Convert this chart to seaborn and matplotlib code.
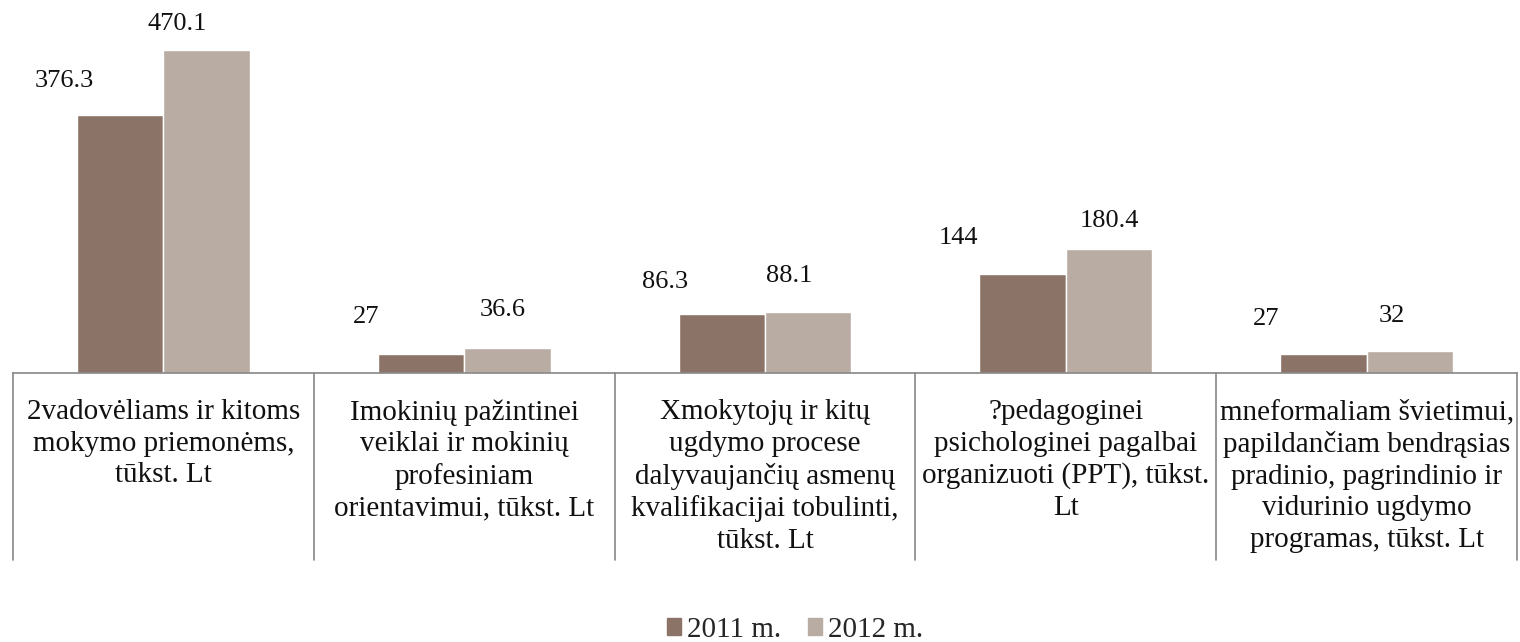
import pandas as pd
import matplotlib
matplotlib.use("Agg")
import matplotlib.pyplot as plt
import matplotlib.transforms as mtransforms
import seaborn as sns

# ---------------------------
# Data
# ---------------------------
categories = [
    "2vadovėliams ir kitoms\nmokymo priemonėms,\ntūkst. Lt",
    "Imokinių pažintinei\nveiklai ir mokinių\nprofesiniam\norientavimui, tūkst. Lt",
    "Xmokytojų ir kitų\nugdymo procese\ndalyvaujančių asmenų\nkvalifikacijai tobulinti,\ntūkst. Lt",
    "?pedagoginei\npsichologinei pagalbai\norganizuoti (PPT), tūkst.\nLt",
    "mneformaliam švietimui,\npapildančiam bendrąsias\npradinio, pagrindinio ir\nvidurinio ugdymo\nprogramas, tūkst. Lt",
]
years = ["2011 m.", "2012 m."]
values_2011 = [376.3, 27, 86.3, 144, 27]
values_2012 = [470.1, 36.6, 88.1, 180.4, 32]
label_2011 = ["376.3", "27", "86.3", "144", "27"]
label_2012 = ["470.1", "36.6", "88.1", "180.4", "32"]

# label shifts (pixels) relative to the bar top centre
shift_x_2011 = [-56, -55, -57, -64, -57]
shift_x_2012 = [-29, -5, -19, 0, -18]
shift_y_2011 = [34, 37, 32, 36, 35]
shift_y_2012 = [26, 38, 36, 28, 35]

colors = ["#8b7467", "#b9aca3"]

df = pd.DataFrame({
    "cat": list(range(len(categories))) * 2,
    "val": values_2011 + values_2012,
    "year": [years[0]] * len(categories) + [years[1]] * len(categories),
})

sns.set_style("white")
plt.rcParams["font.family"] = ["Liberation Serif", "DejaVu Serif"]

fig = plt.figure(figsize=(15.2, 6.42), dpi=100)
ax = fig.add_axes([13 / 1520, 269 / 642, 1504 / 1520, 353 / 642])

sns.barplot(data=df, x="cat", y="val", hue="year", palette=colors,
            width=0.575, saturation=1, ax=ax, legend=False)

ax.set_xlim(-0.5, len(categories) - 0.5)
ax.set_ylim(0, 514)
for s in ["top", "right", "left"]:
    ax.spines[s].set_visible(False)
ax.spines["bottom"].set_color("#868686")
ax.spines["bottom"].set_linewidth(1.2)
ax.set_xticks([])
ax.set_yticks([])
ax.set_xlabel("")
ax.set_ylabel("")

# separators under the axis
trans = mtransforms.blended_transform_factory(ax.transData, ax.transAxes)
for i in range(len(categories) + 1):
    ax.plot([i - 0.5, i - 0.5], [0, -0.53], transform=trans, color="#868686",
            lw=1.2, clip_on=False)

# category labels
for i, c in enumerate(categories):
    ax.text(i, -0.074, c, transform=trans, ha="center", va="top",
            fontsize=21, linespacing=1.28, color="#111111")

# value labels
bw = 0.575 / 2
for k, (vals, labs, sx, sy) in enumerate([
        (values_2011, label_2011, shift_x_2011, shift_y_2011),
        (values_2012, label_2012, shift_x_2012, shift_y_2012)]):
    for i in range(len(categories)):
        x = i + (k - 0.5) * bw
        ax.annotate(labs[i], xy=(x, vals[i]), xytext=(sx[i], sy[i]),
                    textcoords="offset pixels", ha="center", va="center",
                    fontsize=19, color="#111111", annotation_clip=False)

handles = [plt.Rectangle((0, 0), 1, 1, color=c) for c in colors]
fig.legend(handles, years, loc="center", bbox_to_anchor=(795 / 1520, 1 - 630 / 642),
           ncol=2, frameon=False, fontsize=21, handlelength=0.5,
           handleheight=0.5, handletextpad=0.2, columnspacing=0.9,
           borderpad=0)

fig.savefig("out.png", dpi=100)
